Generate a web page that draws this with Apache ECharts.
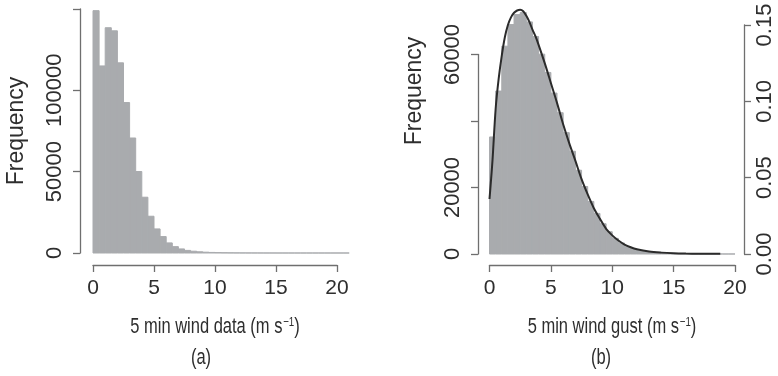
<!DOCTYPE html>
<html>
<head>
<meta charset="utf-8">
<script src="https://cdn.jsdelivr.net/npm/echarts@6/dist/echarts.min.js"></script>
<style>
  html, body { margin: 0; padding: 0; background: #ffffff; }
  #chart { width: 778px; height: 376px; }
</style>
</head>
<body>
<div id="chart"></div>
<script>
// (a) 5 min wind speed: counts per 0.5 m/s bin, starting at 0
const windBinWidth = 0.5;
const windCounts = [
  149000, 115000, 138500, 136600, 116900, 92500, 70700, 50100, 34300, 22600,
  14800, 10100, 6200, 3900, 2500, 1600, 1100, 750, 500, 350,
  250, 170, 120, 80, 60, 40, 30, 20, 15, 10,
  8, 6, 5, 4, 3, 2, 2, 1, 1, 1, 1, 1
];

// (b) 5 min wind gust: counts per 0.5 m/s bin, starting at 0
const gustBinWidth = 0.5;
const gustCounts = [
  35200, 49000, 62500, 69000, 72000, 72600, 69800, 65400, 60100, 54600,
  48400, 42500, 36500, 30900, 25200, 20300, 15800, 12200, 9100, 6700,
  4700, 3300, 2200, 1600, 1000, 700, 500, 350, 250, 180,
  130, 90, 60, 40, 30, 20, 15, 10, 5, 5
];

// (b) fitted probability density curve [speed, density]
const gustDensity = [
  [0, 0.036], [0.1, 0.046], [0.25, 0.062], [0.5, 0.095], [0.75, 0.115],
  [1.0, 0.130], [1.25, 0.142], [1.5, 0.150], [1.75, 0.155], [2.0, 0.158],
  [2.25, 0.1595], [2.5, 0.160], [2.75, 0.159], [3.0, 0.156], [3.25, 0.152],
  [3.5, 0.147], [3.75, 0.1425], [4.0, 0.137], [4.5, 0.125], [5.0, 0.112],
  [5.5, 0.099], [6.0, 0.085], [6.5, 0.0725], [7.0, 0.061], [7.5, 0.049],
  [8.0, 0.039], [8.5, 0.030], [9.0, 0.023], [9.5, 0.0165], [10.0, 0.0122],
  [10.5, 0.0088], [11.0, 0.0062], [11.5, 0.0044], [12.0, 0.0031], [13.0, 0.0016],
  [14.0, 0.0009], [15.0, 0.0005], [16.0, 0.0003], [17.0, 0.0002], [18.0, 0.0001],
  [18.8, 0.0001]
];

// Tick labels
const speedTickLabels = ['0', '5', '10', '15', '20'];
const windFreqTickLabels = ['0', '50000', '100000', ''];
const gustFreqTickLabels = ['0', '20000', '', '60000'];
const gustDensTickLabels = ['0.00', '0.05', '0.10', '0.15'];

// Text
const windXTitle = '5 min wind data (m s{sup|\u22121})';
const gustXTitle = '5 min wind gust (m s{sup|\u22121})';
const yTitle = 'Frequency';
const panelA = '(a)';
const panelB = '(b)';

const W = 778, H = 376;
const BAR = '#a9abae';
const AXIS = '#6f6f6f';
const TEXT = '#2e2e2e';
const FONT = '"Liberation Sans", Arial, sans-serif';
const FS = 21;
const FS_ROT = 22;
const NARROW_SCALE = 0.75;

// Layout of panel (a)
const A = { x0: 93, x20: 337, yZero: 253, yTop: 9, axisLeft: 80, axisBottom: 265, xMax: 21 };
const aPx = (A.x20 - A.x0) / 20;
// Layout of panel (b)
const B = { x0: 489.5, x20: 735, yZero: 254, yTop: 5, y60k: 54.5, yD015: 25, axisLeft: 478, axisRight: 745, axisBottom: 265 };
const bFreqMax = 60000 * (B.yZero - B.yTop) / (B.yZero - B.y60k);
const bDensMax = 0.15 * (B.yZero - B.yTop) / (B.yZero - B.yD015);

function toBins(counts, width) {
  return counts.map((c, i) => [i * width, (i + 1) * width, c]);
}

function histItem(params, api) {
  const p0 = api.coord([api.value(0), api.value(2)]);
  const p1 = api.coord([api.value(1), 0]);
  return {
    type: 'rect',
    shape: { x: p0[0], y: p0[1], width: p1[0] - p0[0], height: p1[1] - p0[1] },
    style: { fill: BAR, stroke: BAR, lineWidth: 1 }
  };
}

const hidden = { show: false };
const axisLineStyle = { show: true, lineStyle: { color: AXIS, width: 1.3 } };
const tickStyle = { show: true, inside: false, length: 7, lineStyle: { color: AXIS, width: 1.3 } };

function yLabel(labels, margin) {
  return {
    show: true, rotate: 90, margin: margin, color: TEXT, fontSize: FS_ROT, fontFamily: FONT,
    formatter: (v, i) => labels[i]
  };
}
function xLabel() {
  return {
    show: true, margin: 13, color: TEXT, fontSize: FS, fontFamily: FONT,
    formatter: (v, i) => speedTickLabels[i]
  };
}

const grids = [
  // 0: (a) data
  { left: A.x0, right: W - (A.x0 + A.xMax * aPx), top: A.yTop, bottom: H - A.yZero },
  // 1: (a) y axis
  { left: A.axisLeft, width: 1, top: A.yTop, bottom: H - A.yZero },
  // 2: (a) x axis
  { left: A.x0, right: W - A.x20, top: A.axisBottom - 10, height: 10 },
  // 3: (b) data
  { left: B.x0, right: W - B.x20, top: B.yTop, bottom: H - B.yZero },
  // 4: (b) left y axis
  { left: B.axisLeft, width: 1, top: B.y60k, bottom: H - B.yZero },
  // 5: (b) right y axis
  { left: B.axisRight - 1, width: 1, top: B.yD015, bottom: H - B.yZero },
  // 6: (b) x axis
  { left: B.x0, right: W - B.x20, top: B.axisBottom - 10, height: 10 }
];

const xAxes = [
  { type: 'value', gridIndex: 0, min: 0, max: A.xMax, show: false },
  { type: 'value', gridIndex: 1, min: 0, max: 1, show: false },
  { type: 'value', gridIndex: 2, min: 0, max: 20, interval: 5, position: 'bottom',
    axisLine: axisLineStyle, axisTick: tickStyle, axisLabel: xLabel(), splitLine: hidden },
  { type: 'value', gridIndex: 3, min: 0, max: 20, show: false },
  { type: 'value', gridIndex: 4, min: 0, max: 1, show: false },
  { type: 'value', gridIndex: 5, min: 0, max: 1, show: false },
  { type: 'value', gridIndex: 6, min: 0, max: 20, interval: 5, position: 'bottom',
    axisLine: axisLineStyle, axisTick: tickStyle, axisLabel: xLabel(), splitLine: hidden }
];

const yAxes = [
  { type: 'value', gridIndex: 0, min: 0, max: 150000, show: false },
  { type: 'value', gridIndex: 1, min: 0, max: 150000, interval: 50000, position: 'left',
    axisLine: axisLineStyle, axisTick: tickStyle, axisLabel: yLabel(windFreqTickLabels, 14), splitLine: hidden },
  { type: 'value', gridIndex: 2, min: 0, max: 1, show: false },
  { type: 'value', gridIndex: 3, min: 0, max: bFreqMax, show: false },
  { type: 'value', gridIndex: 3, min: 0, max: bDensMax, show: false, position: 'right' },
  { type: 'value', gridIndex: 4, min: 0, max: 60000, interval: 20000, position: 'left',
    axisLine: axisLineStyle, axisTick: tickStyle, axisLabel: yLabel(gustFreqTickLabels, 14), splitLine: hidden },
  { type: 'value', gridIndex: 5, min: 0, max: 0.15, interval: 0.05, position: 'right',
    axisLine: axisLineStyle, axisTick: tickStyle, axisLabel: yLabel(gustDensTickLabels, 9), splitLine: hidden },
  { type: 'value', gridIndex: 6, min: 0, max: 1, show: false }
];

function textEl(x, y, text, opts, fontSize) {
  return Object.assign({
    type: 'text', x: x, y: y, silent: true,
    style: {
      text: text, fill: TEXT, fontSize: fontSize || FS, fontFamily: FONT,
      align: 'center', verticalAlign: 'middle', textAlign: 'center', textVerticalAlign: 'middle',
      rich: { sup: { fontSize: 13, fontFamily: FONT, fill: TEXT, verticalAlign: 'top', padding: [0, 0, 8, 1] } }
    }
  }, opts || {});
}

const narrow = { scaleX: NARROW_SCALE };

const option = {
  animation: false,
  backgroundColor: '#ffffff',
  grid: grids,
  xAxis: xAxes,
  yAxis: yAxes,
  series: [
    { type: 'custom', xAxisIndex: 0, yAxisIndex: 0, renderItem: histItem,
      data: toBins(windCounts, windBinWidth), encode: { x: [0, 1], y: 2 }, silent: true },
    { type: 'custom', xAxisIndex: 3, yAxisIndex: 3, renderItem: histItem,
      data: toBins(gustCounts, gustBinWidth), encode: { x: [0, 1], y: 2 }, silent: true },
    { type: 'line', xAxisIndex: 3, yAxisIndex: 4, data: gustDensity, smooth: 0.3,
      showSymbol: false, silent: true, lineStyle: { color: '#2b2b2b', width: 2 } }
  ],
  graphic: [
    textEl(17, 131, yTitle, { rotation: Math.PI / 2 }, 23),
    textEl(415, 91, yTitle, { rotation: Math.PI / 2 }, 23),
    textEl(215, 327, windXTitle, narrow, 22),
    textEl(612, 327, gustXTitle, narrow, 22),
    textEl(201, 358, panelA, narrow, 22),
    textEl(601, 358, panelB, narrow, 22)
  ]
};

const chart = echarts.init(document.getElementById('chart'), null, { renderer: 'canvas' });
chart.setOption(option);
</script>
</body>
</html>
